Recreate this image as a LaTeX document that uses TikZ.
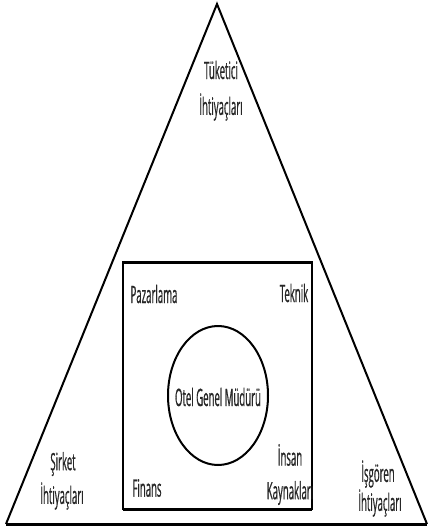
\documentclass[tikz,border=0pt]{standalone}
\usepackage{fontspec}
\newfontfamily\cf{Open Sans}[FakeStretch=0.4,FakeBold=0.6]
\begin{document}
\begin{tikzpicture}[x=1pt,y=-1pt,
  lbl/.style={font=\cf\fontsize{24}{25}\selectfont, text=black!85, inner sep=0pt, align=center},
  edge/.style={line width=2pt, black, line join=miter}]
\useasboundingbox (0,0) rectangle (428,528);
\coordinate (apex) at (217,4);
\coordinate (bl) at (6,524);
\coordinate (br) at (427,524);
\draw[edge] (bl) -- (apex) -- (br);
\draw[line width=3pt] (bl) -- (br);
\draw[line width=2pt] (123,262) rectangle (312,509);
\draw[line width=3pt] (123,262) -- (312,262);
\draw[line width=3pt] (123,509) -- (312,509);
\draw[line width=2pt] (218,395.5) ellipse (50 and 69.5);
\node[lbl] (tuk) at (221,70) {Tüketici};
\node[lbl] (tukI) at (221,107) {İhtiyaçları};
\node[lbl] (paz) at (154,294) {Pazarlama};
\node[lbl] (tek) at (294,293) {Teknik};
\node[lbl] (ogm) at (218,397) {Otel Genel Müdürü};
\node[lbl] (fin) at (147,488) {Finans};
\node[lbl] (ins) at (290,455) {İnsan};
\node[lbl] (kay) at (290,493) {Kaynakları};
\node[lbl] (sir) at (63,464) {Şirket};
\node[lbl] (sirI) at (62,496) {İhtiyaçları};
\node[lbl] (isg) at (378,474) {İşgören};
\node[lbl] (isgI) at (380,503) {İhtiyaçları};
\end{tikzpicture}
\end{document}
